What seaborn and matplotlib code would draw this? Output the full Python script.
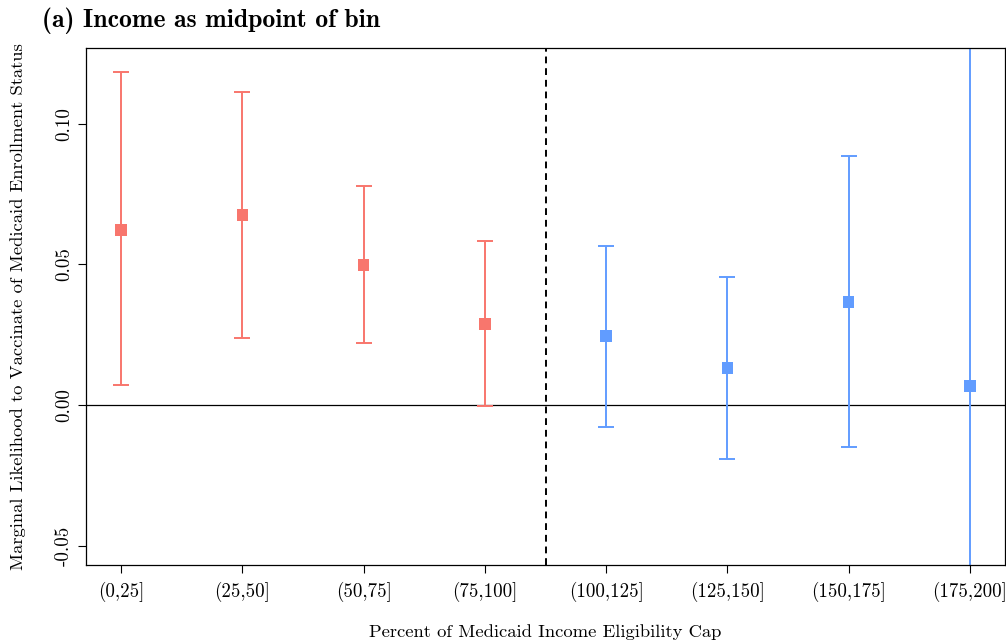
import matplotlib
matplotlib.use("Agg")
import matplotlib.pyplot as plt
import seaborn as sns
import pandas as pd
import numpy as np

# Income bins (percent of Medicaid eligibility cap)
bins = ["(0,25]", "(25,50]", "(50,75]", "(75,100]",
        "(100,125]", "(125,150]", "(150,175]", "(175,200]"]
estimate = [0.0623, 0.0676, 0.0498, 0.0288, 0.0246, 0.0132, 0.0367, 0.0068]
ci_low = [0.0071, 0.0238, 0.0221, -0.0004, -0.0078, -0.0192, -0.0149, -0.1220]
ci_high = [0.1185, 0.1114, 0.0779, 0.0584, 0.0566, 0.0456, 0.0886, 0.1356]
group = ["below", "below", "below", "below", "above", "above", "above", "above"]

y_ticks = [-0.05, 0.00, 0.05, 0.10]
y_tick_labels = ["-0.05", "0.00", "0.05", "0.10"]

palette = {"below": "#F8766D", "above": "#619CFF"}

df = pd.DataFrame({
    "bin": bins,
    "pos": np.arange(1, len(bins) + 1),
    "estimate": estimate,
    "low": ci_low,
    "high": ci_high,
    "group": group,
})

sns.set_style("white")
plt.rcParams["font.family"] = ["cmr10", "DejaVu Serif"]
plt.rcParams["axes.unicode_minus"] = False
plt.rcParams["text.color"] = "black"
plt.rcParams["axes.labelcolor"] = "black"
plt.rcParams["xtick.color"] = "black"
plt.rcParams["ytick.color"] = "black"

fig, ax = plt.subplots(figsize=(10.06, 6.42), dpi=100)
fig.subplots_adjust(left=0.0855, right=0.999, top=0.9252, bottom=0.12)

# confidence intervals with caps
for g, sub in df.groupby("group"):
    ax.errorbar(sub["pos"], sub["estimate"],
                yerr=[sub["estimate"] - sub["low"], sub["high"] - sub["estimate"]],
                fmt="none", ecolor=palette[g], elinewidth=1.4,
                capsize=6, capthick=1.4, zorder=2)

# point estimates
sns.scatterplot(data=df, x="pos", y="estimate", hue="group", palette=palette,
                marker="s", s=70, edgecolor="none", legend=False, ax=ax, zorder=3)

ax.axhline(0, color="black", lw=0.9, zorder=1)
ax.axvline(4.5, color="black", lw=1.4, ls=(0, (3.5, 2.5)), zorder=1)

ax.set_xlim(0.71, 8.29)
ax.set_ylim(-0.0569, 0.127)

ax.set_xticks(df["pos"])
ax.set_xticklabels(bins)
ax.set_yticks(y_ticks)
ax.set_yticklabels(y_tick_labels, rotation=90, va="center")

ax.tick_params(axis="both", which="major", direction="out", length=5.5,
               width=0.8, color="black", labelsize=13.6,
               bottom=True, left=True, top=False, right=False)
ax.tick_params(axis="x", pad=7)
ax.tick_params(axis="y", pad=4)

for sp in ax.spines.values():
    sp.set_visible(True)
    sp.set_color("black")
    sp.set_linewidth(0.9)

ax.set_xlabel("Percent of Medicaid Income Eligibility Cap", fontsize=13.4)
ax.xaxis.set_label_coords(0.5, -0.13)
ax.xaxis.label.set_va("center")
ax.set_ylabel("Marginal Likelihood to Vaccinate of Medicaid Enrollment Status",
              fontsize=13.4)
ax.yaxis.set_label_coords(-0.074, 0.5)
ax.yaxis.label.set_va("center")

fig.text(42 / 1006, 1 - 21 / 642, "(a) Income as midpoint of bin",
         family=["cmb10", "DejaVu Serif"], fontsize=18.5, ha="left", va="center")

fig.savefig("out.png", dpi=100)
